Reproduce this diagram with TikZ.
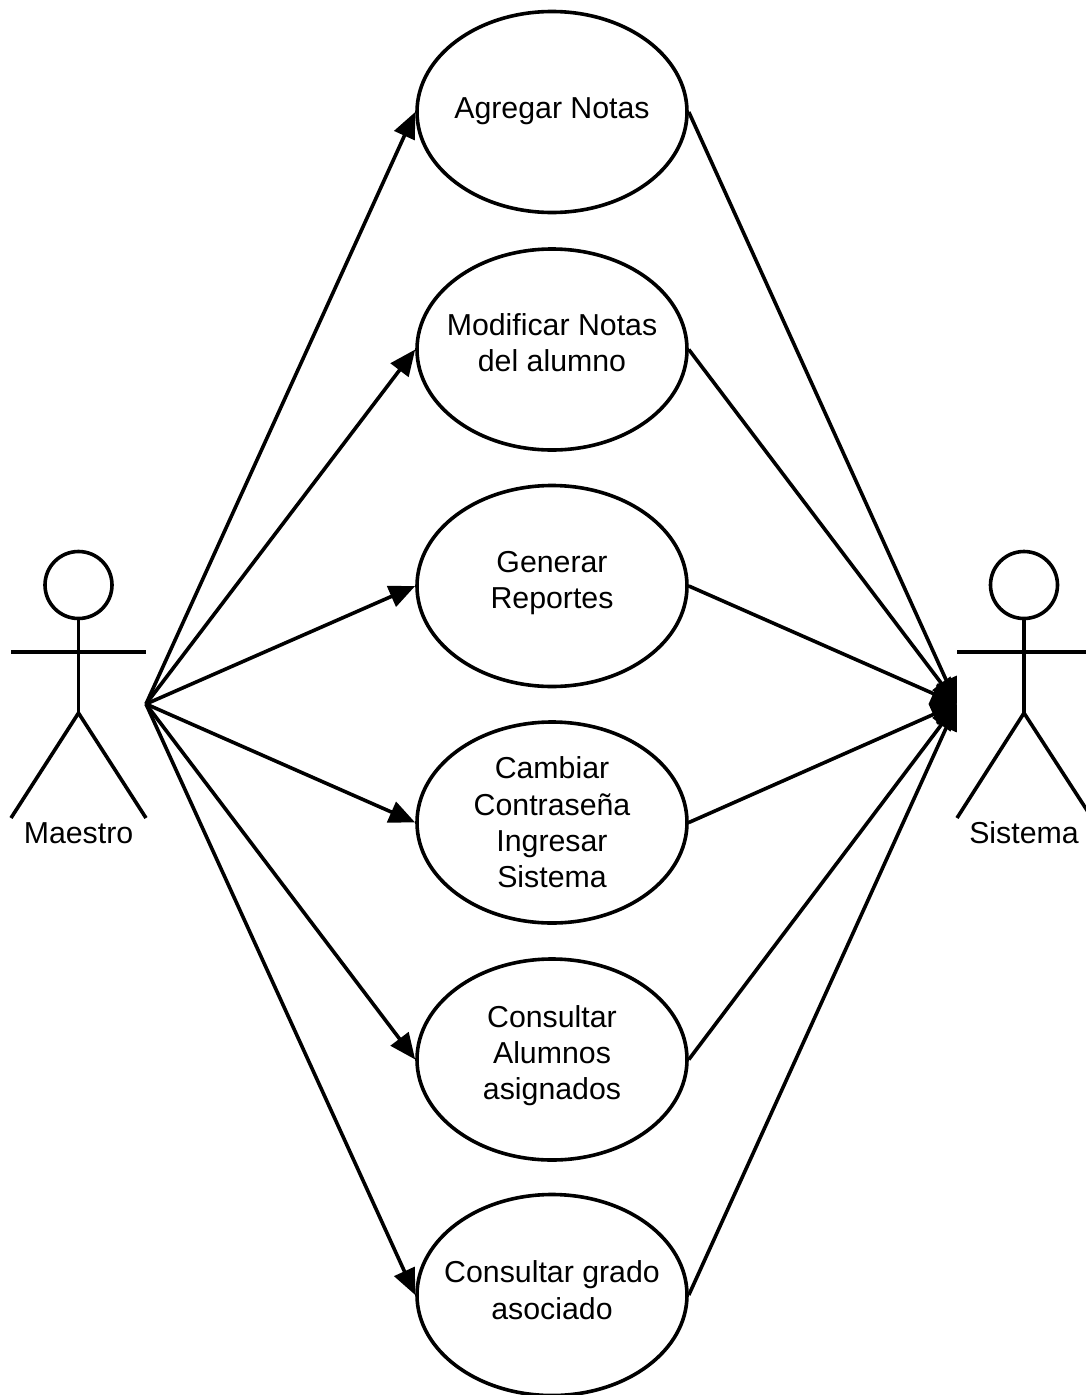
\documentclass[tikz,border=0pt]{standalone}
\usepackage{fontspec}
\setmainfont{Liberation Sans}
\usetikzlibrary{shapes,arrows,arrows.meta}

\newcommand{\lift}[1]{\rule[-#1pt]{0pt}{0pt}}

\begin{document}
\begin{tikzpicture}[x=1pt,y=-1pt,line width=3.6pt]
            % Use cases and the two actors
            \tikzstyle{usecase} = [draw,ellipse,inner xsep=-20pt,inner ysep=-12pt,minimum width=270pt,minimum height=201pt,align=center,font=\fontsize{30.3}{36.4}\selectfont];
            \tikzstyle{head} = [draw,circle,inner sep=0pt,minimum size=67pt];
            \tikzstyle{actorname} = [font=\fontsize{30.3}{36.4}\selectfont];
            \tikzstyle{assoc} = [-{Triangle[length=26pt,width=22pt]}];

            \useasboundingbox (0,0) rectangle (1086,1395);

            \node[usecase] (agregar) at (552,112) {Agregar Notas\lift{8}};
            \node[usecase] (modificar) at (552,349.5) {Modificar Notas\\del alumno\lift{14}};
            \node[usecase] (generar) at (552,586) {Generar\\Reportes\lift{12}};
            \node[usecase] (cambiar) at (552,822.5) {Cambiar\\Contraseña\\Ingresar\\Sistema};
            \node[usecase] (alumnos) at (552,1059.5) {Consultar\\Alumnos\\asignados\lift{14}};
            \node[usecase] (grado) at (552,1295) {Consultar grado\\asociado\lift{10}};

            % Maestro
            \node[head] (maestro) at (78.5,585) {};
            \coordinate (maestro_hip) at (78.5,713);
            \coordinate (maestro_larm) at (11,652);
            \coordinate (maestro_rarm) at (146,652);
            \coordinate (maestro_lfoot) at (11,818);
            \coordinate (maestro_rfoot) at (146,818);
            \coordinate (maestro_out) at (146,704);
            \node[actorname] (maestro_name) at (78.5,833) {Maestro};

            \draw (maestro) -- (maestro_hip);
            \draw (maestro_larm) -- (maestro_rarm);
            \draw (maestro_lfoot) -- (maestro_hip) -- (maestro_rfoot);

            % Sistema
            \node[head] (sistema) at (1024,585) {};
            \coordinate (sistema_hip) at (1024,713);
            \coordinate (sistema_larm) at (957,652);
            \coordinate (sistema_rarm) at (1092,652);
            \coordinate (sistema_lfoot) at (957,818);
            \coordinate (sistema_rfoot) at (1092,818);
            \coordinate (sistema_in) at (957,704);
            \node[actorname] (sistema_name) at (1024,833) {Sistema};

            \draw (sistema) -- (sistema_hip);
            \draw (sistema_larm) -- (sistema_rarm);
            \draw (sistema_lfoot) -- (sistema_hip) -- (sistema_rfoot);

            \draw[assoc] (maestro_out) -- (agregar.west);
            \draw[assoc] (maestro_out) -- (modificar.west);
            \draw[assoc] (maestro_out) -- (generar.west);
            \draw[assoc] (maestro_out) -- (cambiar.west);
            \draw[assoc] (maestro_out) -- (alumnos.west);
            \draw[assoc] (maestro_out) -- (grado.west);

            \draw[assoc] (agregar.east) -- (sistema_in);
            \draw[assoc] (modificar.east) -- (sistema_in);
            \draw[assoc] (generar.east) -- (sistema_in);
            \draw[assoc] (cambiar.east) -- (sistema_in);
            \draw[assoc] (alumnos.east) -- (sistema_in);
            \draw[assoc] (grado.east) -- (sistema_in);

        \end{tikzpicture}
\end{document}
